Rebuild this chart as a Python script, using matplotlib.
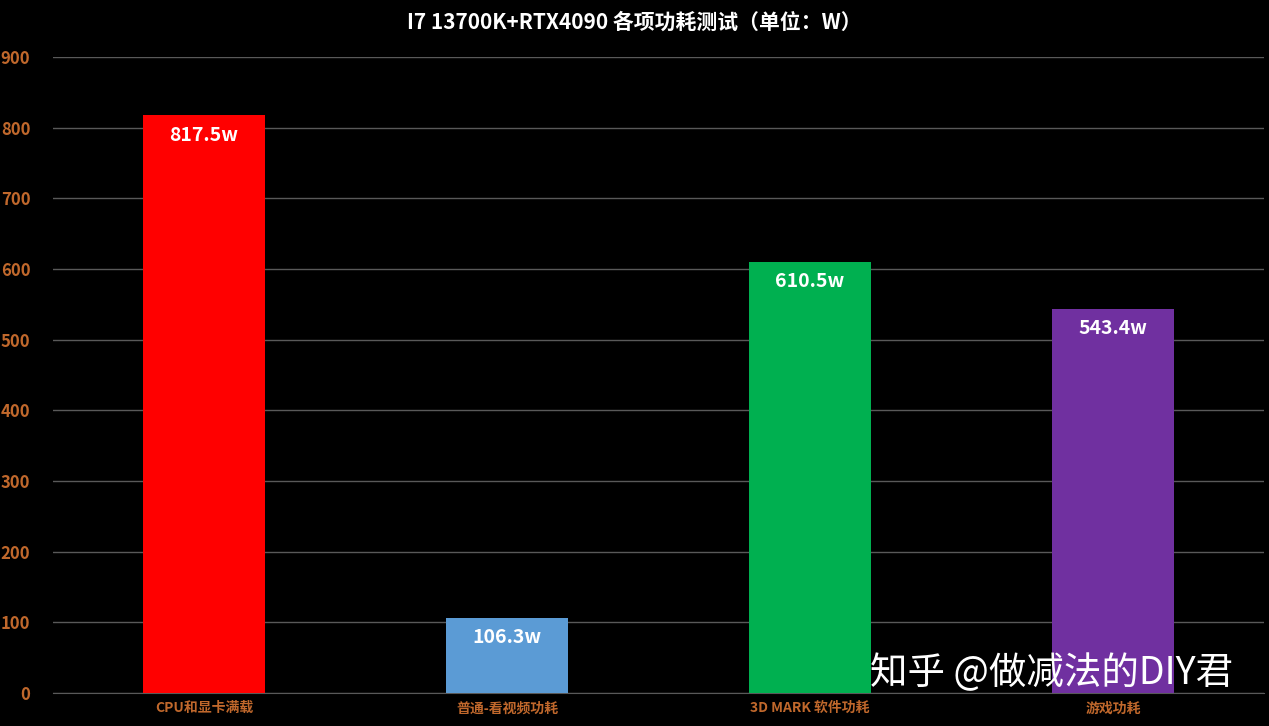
import matplotlib
matplotlib.use("Agg")
import matplotlib.pyplot as plt

plt.rcParams['font.family'] = ['Noto Sans CJK SC', 'DejaVu Sans']

categories = ["CPU和显卡满载", "普通-看视频功耗", "3D MARK 软件功耗", "游戏功耗"]
values = [817.5, 106.3, 610.5, 543.4]
labels = ["817.5w", "106.3w", "610.5w", "543.4w"]
colors = ["#ff0000", "#5b9bd5", "#00b050", "#7030a0"]
yticks = [0, 100, 200, 300, 400, 500, 600, 700, 800, 900]

fig = plt.figure(figsize=(12.69, 7.26), dpi=100, facecolor="black")
ax = fig.add_axes([0.0414, 0.0455, 0.955, 0.876], facecolor="black")
x = range(len(categories))
ax.bar(x, values, width=0.4, color=colors, zorder=3)
for xi, v, lab in zip(x, values, labels):
    ax.text(xi, v - 28, lab, ha="center", va="center", color="white",
            fontsize=14, fontweight="bold", zorder=4)
ax.set_xlim(-0.5, 3.5)
ax.set_ylim(0, 900)
ax.set_yticks(yticks)
ax.yaxis.grid(True, color="#595959", linewidth=1, zorder=0)
ax.set_xticks(list(x))
ax.set_xticklabels(categories)
tc = "#c0682c"
ax.tick_params(axis="y", colors=tc, labelsize=12, length=0, pad=16)
ax.tick_params(axis="x", colors=tc, labelsize=10, length=0, pad=6)
for t in ax.get_yticklabels() + ax.get_xticklabels():
    t.set_fontweight("bold")
for s in ["top", "right", "left"]:
    ax.spines[s].set_visible(False)
ax.spines["bottom"].set_color("#595959")
fig.text(0.5, 0.97, "I7 13700K+RTX4090 各项功耗测试（单位：W）", ha="center",
         va="center", color="white", fontsize=15, fontweight="bold")
fig.text(0.972, 0.072, "知乎 @做减法的DIY君", ha="right", va="center",
         color="white", fontsize=27)
fig.savefig("out.png", dpi=100, facecolor="black")
